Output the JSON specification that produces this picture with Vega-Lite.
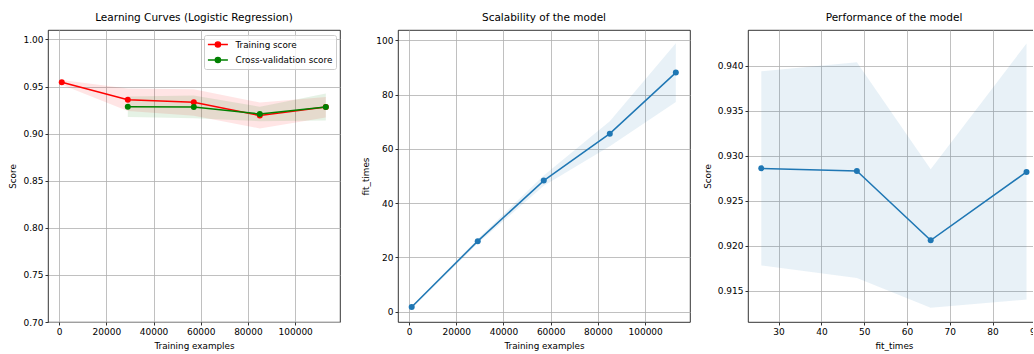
{
  "$schema": "https://vega.github.io/schema/vega-lite/v6.json",
  "padding": {"left": 8, "top": 12, "right": -9, "bottom": 2},
  "spacing": 58,
  "bounds": "flush",
  "resolve": {"scale": {"color": "independent"}, "legend": {"color": "independent"}},
  "datasets": {
    "lc": [
      {"size": 1130, "series": "Training score", "mean": 0.9545, "lo": 0.952, "hi": 0.957},
      {"size": 29100, "series": "Training score", "mean": 0.936, "lo": 0.924, "hi": 0.948},
      {"size": 57065, "series": "Training score", "mean": 0.9332, "lo": 0.919, "hi": 0.947},
      {"size": 85033, "series": "Training score", "mean": 0.9192, "lo": 0.9055, "hi": 0.933},
      {"size": 113000, "series": "Training score", "mean": 0.9282, "lo": 0.917, "hi": 0.939},
      {"size": 29100, "series": "Cross-validation score", "mean": 0.9285, "lo": 0.9177, "hi": 0.9394},
      {"size": 57065, "series": "Cross-validation score", "mean": 0.9283, "lo": 0.9163, "hi": 0.9404},
      {"size": 85033, "series": "Cross-validation score", "mean": 0.9208, "lo": 0.9131, "hi": 0.9285},
      {"size": 113000, "series": "Cross-validation score", "mean": 0.9282, "lo": 0.9139, "hi": 0.9425}
    ],
    "scal": [
      {"size": 1130, "fit": 1.7, "lo": 1.2, "hi": 2.2},
      {"size": 29100, "fit": 26.0, "lo": 25.2, "hi": 26.8},
      {"size": 57065, "fit": 48.3, "lo": 46.4, "hi": 50.2},
      {"size": 85033, "fit": 65.6, "lo": 61.0, "hi": 70.2},
      {"size": 113000, "fit": 88.1, "lo": 77.3, "hi": 98.9}
    ],
    "perf": [
      {"fit": 25.96, "score": 0.9286, "lo": 0.9178, "hi": 0.9394},
      {"fit": 48.3, "score": 0.9283, "lo": 0.9164, "hi": 0.9404},
      {"fit": 65.55, "score": 0.9206, "lo": 0.9131, "hi": 0.9285},
      {"fit": 87.95, "score": 0.9282, "lo": 0.914, "hi": 0.9425}
    ]
  },
  "hconcat": [
    {
      "width": 292,
      "height": 292,
      "title": "Learning Curves (Logistic Regression)",
      "data": {"name": "lc"},
      "encoding": {
        "x": {"field": "size", "type": "quantitative", "scale": {"domain": [-4700, 119000], "nice": false, "zero": false},
              "axis": {"values": [0, 20000, 40000, 60000, 80000, 100000], "format": "d", "title": "Training examples"}}
      },
      "layer": [
        {
          "mark": {"type": "area", "opacity": 0.1},
          "encoding": {
            "y": {"field": "lo", "type": "quantitative", "scale": {"domain": [0.7, 1.01], "nice": false, "zero": false},
                  "axis": {"values": [0.7, 0.75, 0.8, 0.85, 0.9, 0.95, 1.0], "format": ".2f", "title": "Score"}},
            "y2": {"field": "hi"},
            "color": {"field": "series", "type": "nominal", "scale": {"domain": ["Training score", "Cross-validation score"], "range": ["#ff0000", "#008000"]}}
          }
        },
        {
          "mark": {"type": "line", "strokeWidth": 1.5},
          "encoding": {
            "y": {"field": "mean", "type": "quantitative"},
            "color": {"field": "series", "type": "nominal",
              "legend": {
                "title": null, "orient": "top-right", "offset": 4.5, "padding": 3.5, "rowPadding": 3.5,
                "labelOffset": 16, "labelFontSize": 8.8, "labelColor": "#000",
                "symbolType": "M-1.12,0L2.88,0M1.4,0A0.52,0.52,0,1,1,0.36,0A0.52,0.52,0,1,1,1.4,0",
                "symbolSize": 100, "symbolStrokeWidth": 1.4,
                "fillColor": "rgba(255,255,255,0.8)", "strokeColor": "#cccccc", "cornerRadius": 2,
                "encode": {"symbols": {"update": {"opacity": {"value": 1}, "fillOpacity": {"value": 1}, "strokeOpacity": {"value": 1}, "fill": {"signal": "datum.value === 'Training score' ? '#ff0000' : '#008000'"}, "stroke": {"signal": "datum.value === 'Training score' ? '#ff0000' : '#008000'"}}}}
              }
            }
          }
        },
        {
          "mark": {"type": "point", "filled": true, "opacity": 1, "size": 36},
          "encoding": {
            "y": {"field": "mean", "type": "quantitative"},
            "color": {"field": "series", "type": "nominal"}
          }
        }
      ]
    },
    {
      "width": 292,
      "height": 292,
      "title": "Scalability of the model",
      "data": {"name": "scal"},
      "encoding": {
        "x": {"field": "size", "type": "quantitative", "scale": {"domain": [-4670, 119000], "nice": false, "zero": false},
              "axis": {"values": [0, 20000, 40000, 60000, 80000, 100000], "format": "d", "title": "Training examples"}}
      },
      "layer": [
        {
          "mark": {"type": "area", "opacity": 0.1, "color": "#1f77b4"},
          "encoding": {
            "y": {"field": "lo", "type": "quantitative", "scale": {"domain": [-3.8, 103.8], "nice": false, "zero": false},
                  "axis": {"values": [0, 20, 40, 60, 80, 100], "format": "d", "title": "fit_times"}},
            "y2": {"field": "hi"}
          }
        },
        {
          "mark": {"type": "line", "strokeWidth": 1.5, "color": "#1f77b4"},
          "encoding": {"y": {"field": "fit", "type": "quantitative"}}
        },
        {
          "mark": {"type": "point", "filled": true, "opacity": 1, "size": 36, "color": "#1f77b4"},
          "encoding": {"y": {"field": "fit", "type": "quantitative"}}
        }
      ]
    },
    {
      "width": 292,
      "height": 292,
      "title": "Performance of the model",
      "data": {"name": "perf"},
      "encoding": {
        "x": {"field": "fit", "type": "quantitative", "scale": {"domain": [22.85, 91.1], "nice": false, "zero": false},
              "axis": {"values": [30, 40, 50, 60, 70, 80, 90], "format": "d", "title": "fit_times"}}
      },
      "layer": [
        {
          "mark": {"type": "area", "opacity": 0.1, "color": "#1f77b4"},
          "encoding": {
            "y": {"field": "lo", "type": "quantitative", "scale": {"domain": [0.9115, 0.944], "nice": false, "zero": false},
                  "axis": {"values": [0.915, 0.92, 0.925, 0.93, 0.935, 0.94], "format": ".3f", "title": "Score"}},
            "y2": {"field": "hi"}
          }
        },
        {
          "mark": {"type": "line", "strokeWidth": 1.5, "color": "#1f77b4"},
          "encoding": {"y": {"field": "score", "type": "quantitative"}}
        },
        {
          "mark": {"type": "point", "filled": true, "opacity": 1, "size": 36, "color": "#1f77b4"},
          "encoding": {"y": {"field": "score", "type": "quantitative"}}
        }
      ]
    }
  ],
  "config": {
    "font": "DejaVu Sans",
    "background": "#ffffff",
    "view": {"stroke": "#000000", "strokeWidth": 0.8},
    "axis": {
      "domain": false, "grid": true, "gridColor": "#b0b0b0", "gridWidth": 0.8, "gridOpacity": 1,
      "tickColor": "#000000", "tickSize": 3, "tickWidth": 0.8,
      "labelFontSize": 9, "labelColor": "#000000", "labelPadding": 2, "labelFlush": false, "labelOverlap": false,
      "titleFontSize": 8.8, "titleFontWeight": "normal", "titleColor": "#000000", "titlePadding": 5
    },
    "title": {"fontSize": 10.5, "fontWeight": "normal", "color": "#000000", "frame": "group", "anchor": "middle", "offset": 7, "baseline": "alphabetic"}
  }
}
